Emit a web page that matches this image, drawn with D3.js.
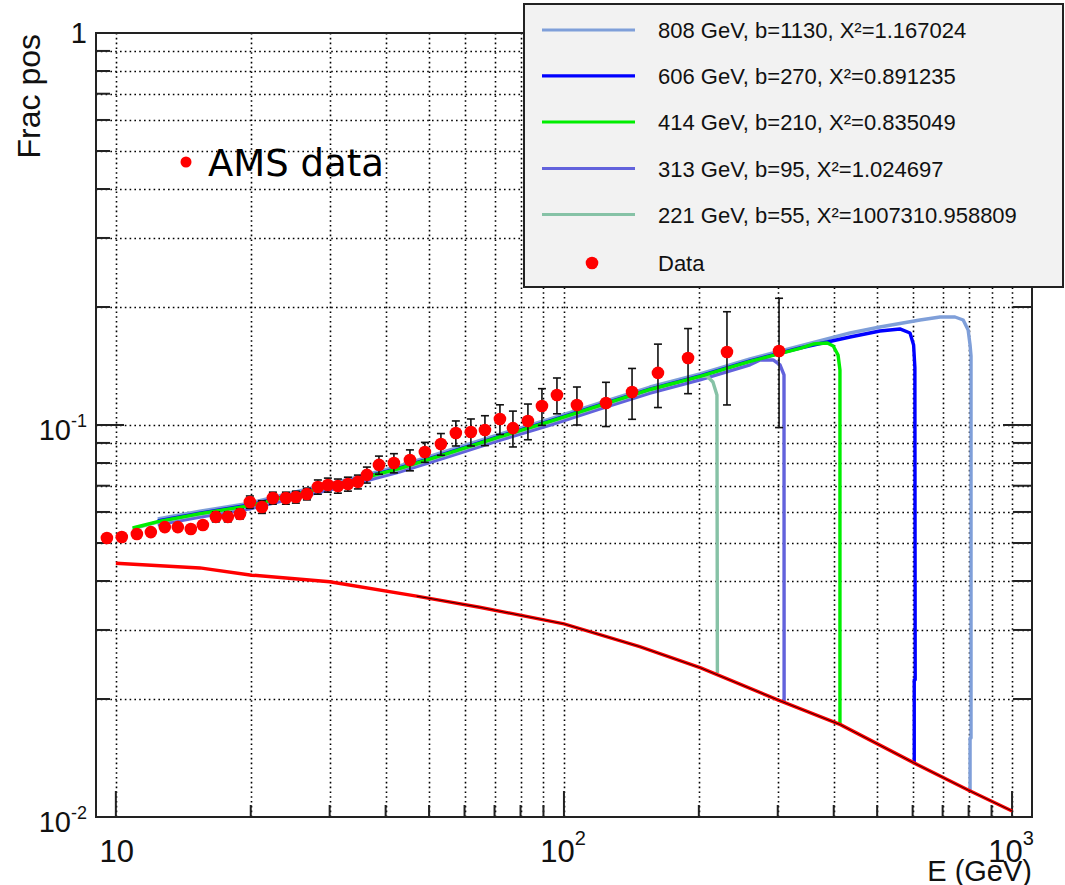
<!DOCTYPE html>
<html><head><meta charset="utf-8">
<script src="https://cdn.jsdelivr.net/npm/d3@7"></script>
<style>body{margin:0;background:#fff}svg{display:block}</style>
</head><body><svg id="c" width="1065" height="885"></svg>
<script>
// ---------------- DATA ----------------
const dataE = [9.55,10.31,11.14,11.97,12.86,13.75,14.70,15.64,16.72,17.78,18.92,19.91,21.18,22.41,23.96,25.22,26.69,28.24,29.73,31.30,32.95,34.69,36.33,38.65,41.74,45.32,48.94,53.14,57.38,61.99,66.63,71.97,76.94,83.10,89.31,96.47,106.9,124.1,141.9,162.1,189.2,231.1,302.0];
const dataFrac = [0.0515,0.0518,0.0527,0.0533,0.0549,0.0549,0.0543,0.0556,0.0583,0.0583,0.0593,0.0636,0.0618,0.0651,0.0651,0.0655,0.0667,0.0695,0.0703,0.0699,0.0707,0.0716,0.0746,0.0791,0.0800,0.0814,0.0853,0.0894,0.0954,0.0960,0.0971,0.1036,0.0982,0.1024,0.1118,0.1193,0.1125,0.1138,0.1214,0.1358,0.1482,0.1535,0.1545];
const dataErr = [0.001,0.001,0.001,0.001,0.001,0.001,0.001,0.001,0.0017,0.0017,0.0017,0.0023,0.0023,0.0023,0.0023,0.0023,0.0023,0.0029,0.0029,0.0029,0.0029,0.0029,0.0035,0.0042,0.0045,0.005,0.005,0.0057,0.007,0.0076,0.0085,0.009,0.0103,0.0107,0.012,0.0125,0.0125,0.0147,0.018,0.025,0.028,0.041,0.056];

const bgE    = [10,15.4,20.1,30,46.9,64.8,100,147.6,202,300,414,607,800,1000];
const bgFrac = [0.0444,0.0432,0.0414,0.0398,0.0366,0.0343,0.0311,0.0272,0.0240,0.0199,0.0172,0.0137,0.0117,0.01036];

const m808E = [12.4,15.4,19.9,25.7,33.3,43.0,55.7,72.0,93.1,120.3,155.6,201.2,260.2,336.4,435,507,623,691,746,778,798,806,810,810,806,806];
const m808F = [0.0576,0.0603,0.0632,0.0679,0.0729,0.0786,0.0864,0.0948,0.1036,0.1139,0.1250,0.1350,0.1475,0.1591,0.1717,0.1778,0.1853,0.1886,0.1886,0.1853,0.1747,0.1600,0.1500,0.0159,0.0159,0.01168];
const m606E = [12.4,15.4,19.9,25.7,33.3,43.0,55.7,72.0,93.1,120.3,155.6,201.2,260.2,336.4,435,507,562,592,603,607,608,605,605];
const m606F = [0.0569,0.0596,0.0625,0.0671,0.0720,0.0777,0.0853,0.0937,0.1024,0.1125,0.1235,0.1334,0.1457,0.1572,0.1677,0.1737,0.1758,0.1717,0.1600,0.1400,0.0224,0.0224,0.01375];
const m414E = [10.9,12.4,15.4,19.9,25.7,33.3,43.0,55.7,72.0,93.1,120.3,155.6,201.2,260.2,336.4,360,387,399,409,413,413];
const m414F = [0.0546,0.0567,0.0594,0.0623,0.0669,0.0718,0.0775,0.0850,0.0934,0.1021,0.1122,0.1232,0.1331,0.1453,0.1568,0.1609,0.1619,0.1590,0.1509,0.1381,0.01717];
const m313E = [12.4,15.4,19.9,25.7,33.3,43.0,55.7,72.0,93.1,120.3,155.6,201.2,260.2,274,293,303.5,309.8,310];
const m313F = [0.0556,0.0582,0.0611,0.0656,0.0703,0.0759,0.0833,0.0915,0.1000,0.1099,0.1206,0.1303,0.1424,0.1465,0.1465,0.1423,0.1342,0.0197];
const m221E = [10.9,12.4,15.4,19.9,25.7,33.3,43.0,55.7,72.0,93.1,120.3,155.6,201.2,208.5,215,219.5,220];
const m221F = [0.0543,0.0565,0.0592,0.0621,0.0666,0.0715,0.0772,0.0847,0.0930,0.1017,0.1117,0.1227,0.1330,0.1334,0.1287,0.1193,0.0233];

const legendLabels = ["808 GeV, b=1130, X\u00B2=1.167024","606 GeV, b=270, X\u00B2=0.891235","414 GeV, b=210, X\u00B2=0.835049","313 GeV, b=95, X\u00B2=1.024697","221 GeV, b=55, X\u00B2=1007310.958809","Data"];
const modelColors = ["#7f9fd9","#0000ff","#00ee00","#6262dc","#86c2a6"];

const xTickVals = [10,20,30,40,50,60,70,80,90,100,200,300,400,500,600,700,800,900,1000];
const yTickVals = [0.01,0.02,0.03,0.04,0.05,0.06,0.07,0.08,0.09,0.1,0.2,0.3,0.4,0.5,0.6,0.7,0.8,0.9,1];
const xMajorLabels = [[10,"10",""],[100,"10","2"],[1000,"10","3"]];
const yMajorLabels = [[1,"1",""],[0.1,"10","-1"],[0.01,"10","-2"]];

// ---------------- CHART ----------------
const svg = d3.select('#c');
const L=96,R=1032,T=33,B=817;
const x = d3.scaleLog().domain([9.03,1108]).range([L,R]);
const y = d3.scaleLog().domain([0.01,1]).range([B,T]);
const font = "'Liberation Sans', Arial, Helvetica, sans-serif";

svg.append('rect').attr('width',1065).attr('height',885).attr('fill','#fff');

// grid
const grid = svg.append('g').attr('stroke','#000').attr('stroke-width',1.6).attr('stroke-dasharray','1.6,3.2');
grid.selectAll('line.gx').data(xTickVals).join('line').attr('class','gx')
  .attr('x1',d=>Math.round(x(d))+0.5).attr('x2',d=>Math.round(x(d))+0.5).attr('y1',T).attr('y2',B);
grid.selectAll('line.gy').data(yTickVals.filter(v=>v>0.01&&v<1)).join('line').attr('class','gy')
  .attr('y1',d=>Math.round(y(d))+0.5).attr('y2',d=>Math.round(y(d))+0.5).attr('x1',L).attr('x2',R);

// ticks
const tk = svg.append('g').attr('stroke','#222').attr('stroke-width',2);
const isMajorX = v=>[10,100,1000].includes(v);
const isMajorY = v=>[0.01,0.1,1].includes(v);
tk.selectAll('line.tx').data(xTickVals).join('line').attr('class','tx')
  .attr('x1',d=>x(d)).attr('x2',d=>x(d)).attr('y1',B).attr('y2',d=>B-(isMajorX(d)?26:12));
tk.selectAll('line.tyl').data(yTickVals).join('line').attr('class','tyl')
  .attr('y1',d=>y(d)).attr('y2',d=>y(d)).attr('x1',L).attr('x2',d=>L+(isMajorY(d)?28:14));
tk.selectAll('line.tyr').data(yTickVals).join('line').attr('class','tyr')
  .attr('y1',d=>y(d)).attr('y2',d=>y(d)).attr('x1',R).attr('x2',d=>R-(isMajorY(d)?29:19));

// model curves
const line = d3.line().x(d=>x(d[0])).y(d=>y(d[1]));
const models = [
  {E:m808E,F:m808F,c:modelColors[0]},
  {E:m313E,F:m313F,c:modelColors[3]},
  {E:m221E,F:m221F,c:modelColors[4]},
  {E:m606E,F:m606F,c:modelColors[1]},
  {E:m414E,F:m414F,c:modelColors[2]}
];
models.forEach(m=>{
  svg.append('path').datum(m.E.map((e,i)=>[e,m.F[i]]))
    .attr('d',line).attr('fill','none').attr('stroke',m.c).attr('stroke-width',3.4)
    .attr('stroke-linejoin','round');
});

// background curve
const bg = bgE.map((e,i)=>[e,bgFrac[i]]);
svg.append('path').datum(bg).attr('d',line).attr('fill','none').attr('stroke','#ff0000').attr('stroke-width',3.5);
svg.append('path').datum(bg.filter(d=>d[0]>=46)).attr('d',line).attr('fill','none').attr('stroke','#300').attr('stroke-width',1);

// data points
const pts = dataE.map((e,i)=>({e,f:dataFrac[i],err:dataErr[i]}));
const eb = svg.append('g').attr('stroke','#111').attr('stroke-width',1.6);
pts.forEach(p=>{
  const x0=x(p.e), y1=y(p.f+p.err), y2=y(p.f-p.err);
  eb.append('line').attr('x1',x0).attr('x2',x0).attr('y1',y1).attr('y2',y2);
  eb.append('line').attr('x1',x0-4).attr('x2',x0+4).attr('y1',y1).attr('y2',y1);
  eb.append('line').attr('x1',x0-4).attr('x2',x0+4).attr('y1',y2).attr('y2',y2);
});
svg.append('g').selectAll('circle').data(pts).join('circle')
  .attr('cx',d=>x(d.e)).attr('cy',d=>y(d.f)).attr('r',6.3).attr('fill','#ff0000');

// frame
svg.append('rect').attr('x',L).attr('y',T).attr('width',R-L).attr('height',B-T)
  .attr('fill','none').attr('stroke','#222').attr('stroke-width',2);

// axis labels
yMajorLabels.forEach(([v,base,exp])=>{
  const t = svg.append('text').attr('x',87).attr('y',y(v)+(exp?15:10))
    .attr('text-anchor','end').attr('font-family',font).attr('font-size',29).attr('fill','#111');
  t.append('tspan').text(base);
  if(exp) t.append('tspan').attr('dy',-13).attr('font-size',18).text(exp);
});
xMajorLabels.forEach(([v,base,exp])=>{
  const t = svg.append('text').attr('x',x(v)+(exp?-1:1)).attr('y',862)
    .attr('text-anchor','middle').attr('font-family',font).attr('font-size',31).attr('fill','#111');
  t.append('tspan').text(base);
  if(exp) t.append('tspan').attr('dy',-17).attr('font-size',20).text(exp);
});
svg.append('text').attr('x',1032).attr('y',881).attr('text-anchor','end')
  .attr('font-family',font).attr('font-size',29).attr('fill','#111').text('E (GeV)');
svg.append('text').attr('transform','translate(40,34) rotate(-90)').attr('text-anchor','end')
  .attr('font-family',font).attr('font-size',32).attr('fill','#111').text('Frac pos');

// AMS data annotation
svg.append('circle').attr('cx',186).attr('cy',162).attr('r',5.5).attr('fill','#ff0000');
svg.append('text').attr('x',208).attr('y',176).attr('font-family',"'DejaVu Sans', Verdana, sans-serif")
  .attr('font-size',37).attr('fill','#000').text('AMS data');

// legend
const lg = svg.append('g');
lg.append('rect').attr('x',524).attr('y',4).attr('width',539).attr('height',283)
  .attr('fill','#f2f2f2').attr('stroke','#222').attr('stroke-width',2);
const rowY = [30,75.8,122,168.5,214.5,263];
legendLabels.forEach((lab,i)=>{
  if(i<5){
    lg.append('line').attr('x1',542).attr('x2',635).attr('y1',rowY[i]).attr('y2',rowY[i])
      .attr('stroke',modelColors[i]).attr('stroke-width',3.2);
  } else {
    lg.append('circle').attr('cx',592).attr('cy',rowY[i]).attr('r',6.3).attr('fill','#ff0000');
  }
  lg.append('text').attr('x',658).attr('y',rowY[i]+8).attr('font-family',font)
    .attr('font-size',22).attr('fill','#111').text(lab);
});
</script></body></html>
